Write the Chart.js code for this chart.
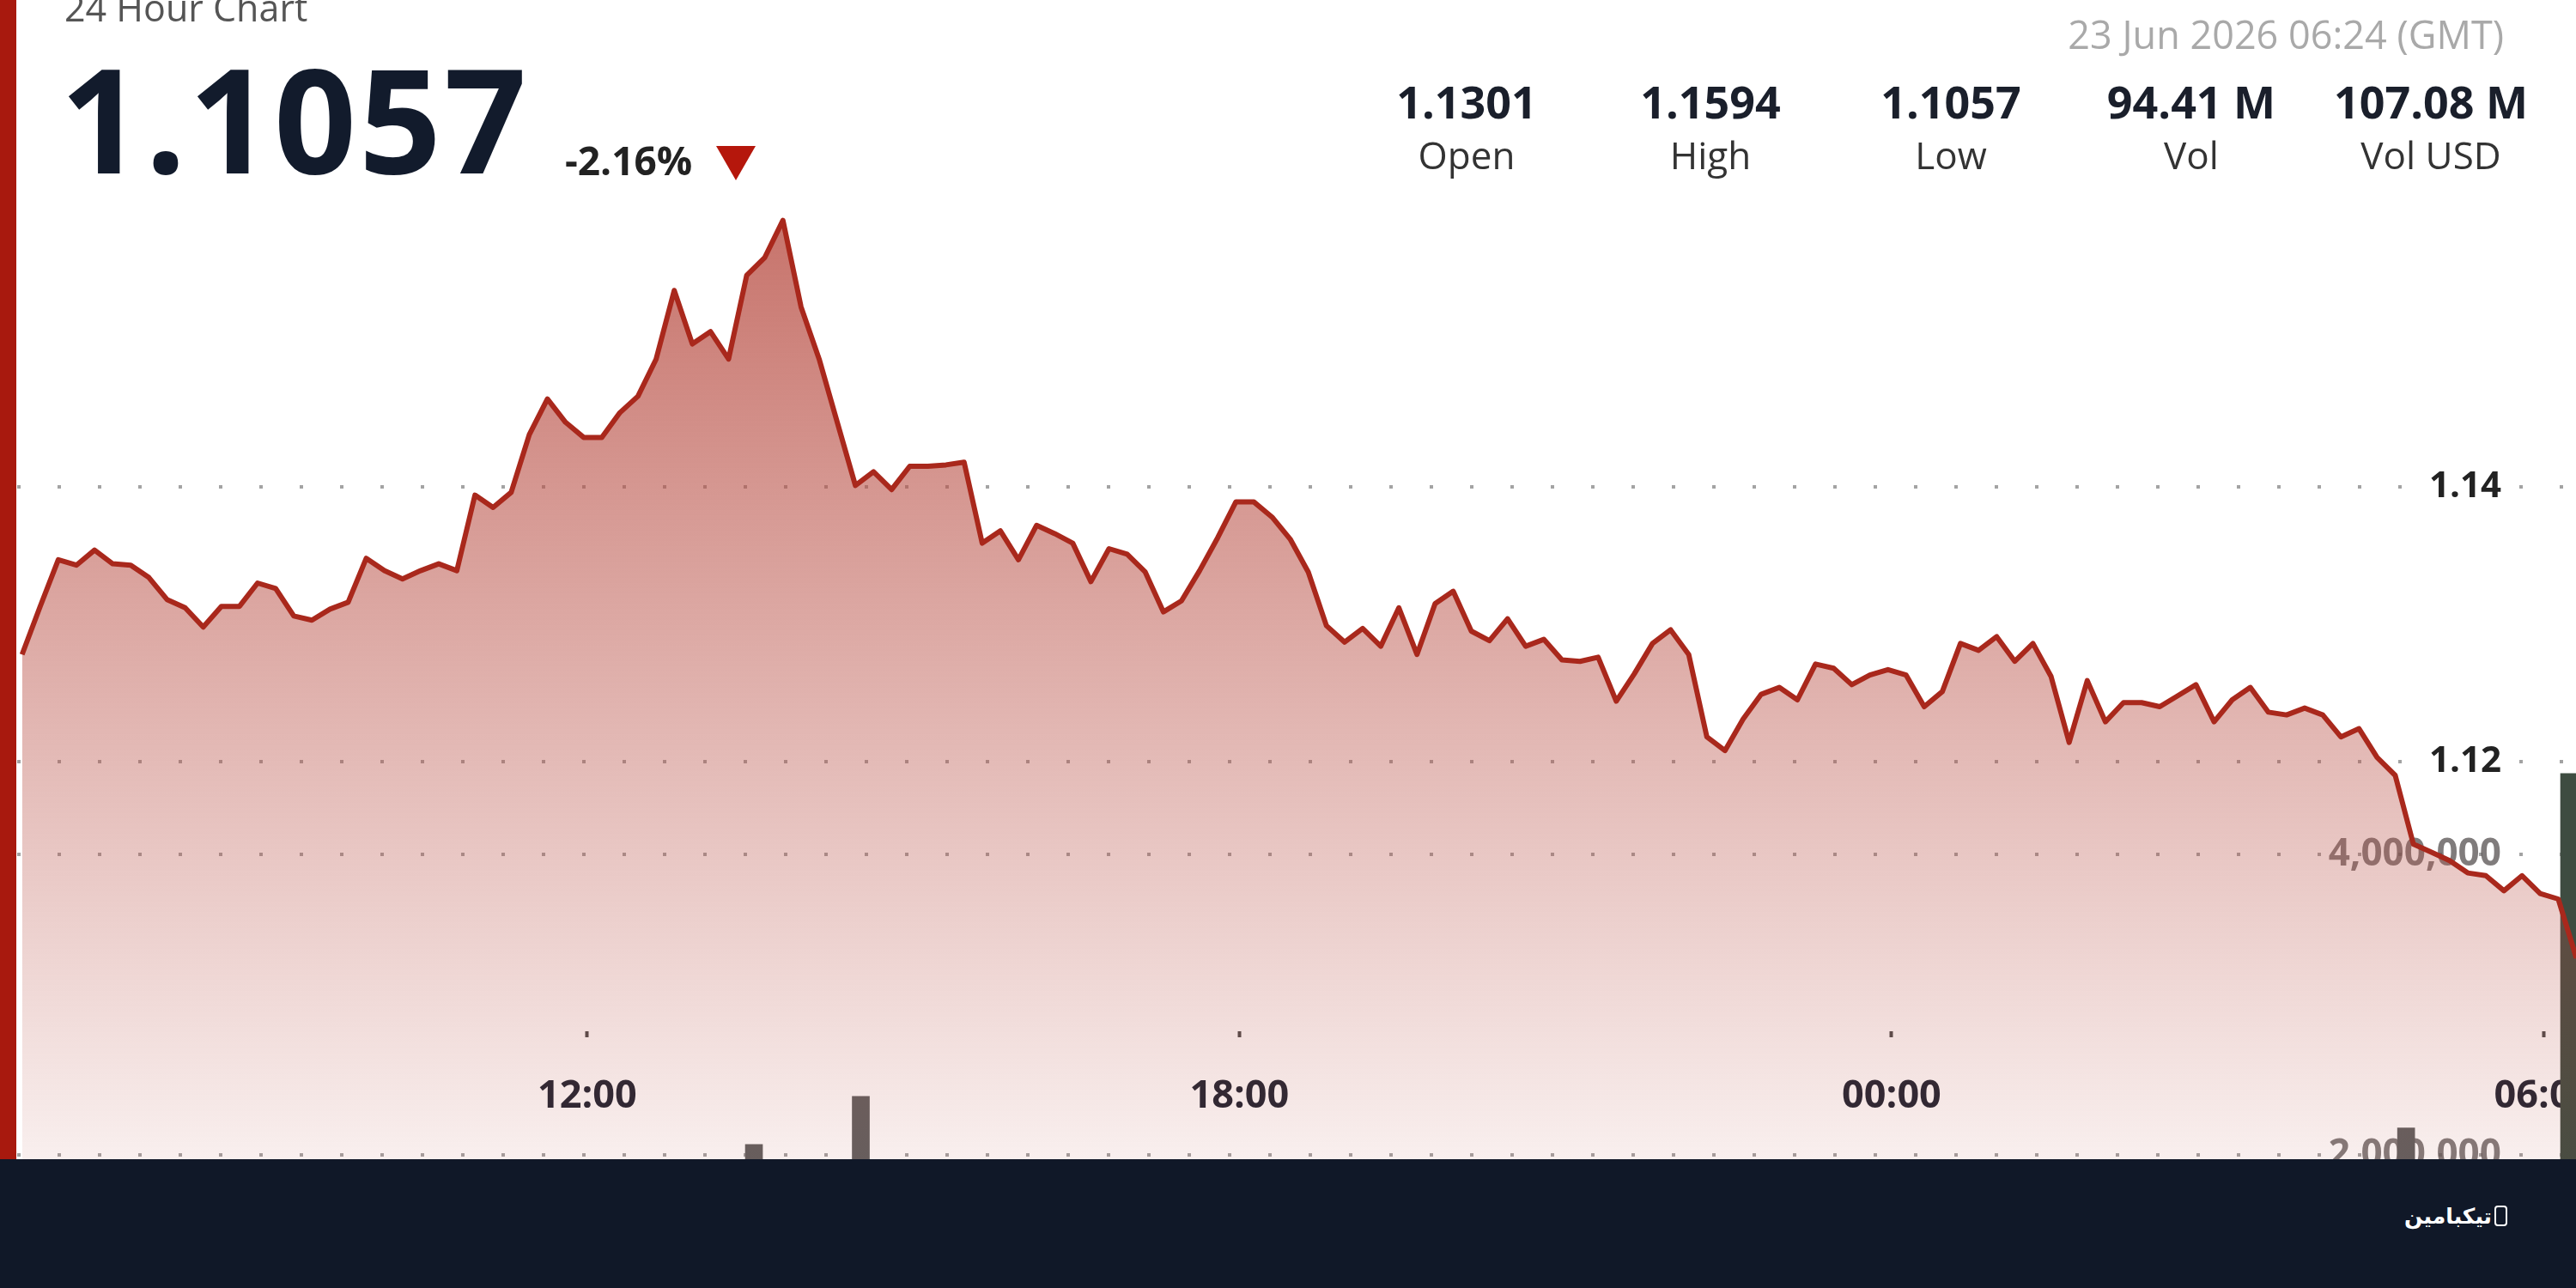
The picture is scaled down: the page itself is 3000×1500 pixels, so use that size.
<!DOCTYPE html>
<html>
<head>
<meta charset="utf-8">
<script src="https://cdn.jsdelivr.net/npm/chart.js@4.4.1/dist/chart.umd.min.js"></script>
<style>
  html, body { margin: 0; padding: 0; background: #fff; }
  body { width: 3000px; height: 1500px; overflow: hidden; position: relative; font-family: 'Open Sans', sans-serif; }
  #plot { position: absolute; left: 0; top: 0; width: 3000px; height: 1350px; overflow: hidden; }
  #chart { position: absolute; left: 0; top: 0; }
  #redbar { position: absolute; left: 0; top: 0; width: 19px; height: 1350px; background: #a8190e; }
  .t { position: absolute; line-height: 1; white-space: nowrap; }
  #title { left: 75px; top: -13px; font-size: 43px; color: #555; }
  #last { left: 70px; top: 53px; font-size: 168px; font-weight: 700; color: #121b2c; letter-spacing: 3px; }
  #change { left: 658px; top: 163px; font-size: 46px; font-weight: 700; color: #222; }
  #arrow { position: absolute; left: 834px; top: 170px; width: 0; height: 0;
           border-left: 23px solid transparent; border-right: 23px solid transparent; border-top: 40px solid #b5170c; }
  #date { right: 84px; top: 17px; font-size: 45px; color: #a9a9a9; }
  .stat { position: absolute; width: 300px; text-align: center; }
  .stat .v { position: absolute; left: 0; width: 300px; top: 92px; font-size: 52px; font-weight: 700; color: #1a1f2b; line-height: 1; }
  .stat .l { position: absolute; left: 0; width: 300px; top: 158px; font-size: 44px; color: #333; line-height: 1; }
  #footer { position: absolute; left: 0; top: 1350px; width: 3000px; height: 150px; background: #101828; }
  #logo { position: absolute; right: 80px; top: 54px; color: #fff; font-family: 'DejaVu Sans', sans-serif;
          font-weight: 700; font-size: 25px; line-height: 1; direction: rtl; white-space: nowrap; }
  #logo span { display: inline-block; width: 11px; height: 20px; border: 2px solid #fff; border-radius: 4px;
               margin-left: 3px; vertical-align: -3px; }
</style>
</head>
<body>
<div id="plot"><canvas id="chart" width="3100" height="1760"></canvas></div>
<div id="redbar"></div>
<div class="t" id="title">24 Hour Chart</div>
<div class="t" id="last">1.1057</div>
<div class="t" id="change">-2.16%</div>
<div id="arrow"></div>
<div class="t" id="date">23 Jun 2026 06:24 (GMT)</div>
<div id="stats"></div>
<div id="footer"><div id="logo"><span></span>تیکبامین</div></div>
<script>
// price every 10 minutes, first point 06:48 (minutes after midnight of day one)
const START_MIN = 408;
const STEP_MIN = 10;
const prices = [
  1.1278, 1.1313, 1.1347, 1.1343, 1.1354, 1.1344, 1.1343, 1.1334, 1.1318, 1.1312,
  1.1298, 1.1313, 1.1313, 1.1330, 1.1326, 1.1306, 1.1303, 1.1311, 1.1316, 1.1348,
  1.1339, 1.1333, 1.1339, 1.1344, 1.1339, 1.1394, 1.1385, 1.1396, 1.1438, 1.1464,
  1.1447, 1.1436, 1.1436, 1.1454, 1.1466,
  1.1493, 1.1543, 1.1504, 1.1513, 1.1493, 1.1554, 1.1567, 1.1594, 1.1531, 1.1493,
  1.1447, 1.1401, 1.1411, 1.1398, 1.1415, 1.1415, 1.1416, 1.1418, 1.1359, 1.1368,
  1.1347, 1.1372, 1.1366, 1.1359, 1.1331, 1.1355, 1.1351, 1.1338, 1.1309, 1.1317,
  1.1339, 1.1363, 1.1389, 1.1389, 1.1378,
  1.1362, 1.1338, 1.1299, 1.1287, 1.1297, 1.1284, 1.1312, 1.1278, 1.1315, 1.1324,
  1.1295, 1.1288, 1.1304, 1.1284, 1.1289, 1.1274, 1.1273, 1.1276, 1.1244, 1.1264,
  1.1286, 1.1296, 1.1278, 1.1218, 1.1208, 1.1231, 1.1249, 1.1254, 1.1245, 1.1271,
  1.1268, 1.1256, 1.1263, 1.1267, 1.1263,
  1.1240, 1.1251, 1.1286, 1.1281, 1.1291, 1.1273, 1.1286, 1.1262, 1.1214, 1.1259,
  1.1229, 1.1243, 1.1243, 1.1240, 1.1248, 1.1256, 1.1229, 1.1245, 1.1254, 1.1236,
  1.1234, 1.1239, 1.1234, 1.1218, 1.1224, 1.1203, 1.1190, 1.1140, 1.1134, 1.1128,
  1.1119, 1.1117, 1.1106, 1.1117, 1.1104, 1.1100, 1.1057
];
const times = prices.map((_, i) => START_MIN + i * STEP_MIN);

const timeTicks = [720, 1080, 1440, 1800];
const timeLabels = ['12:00', '18:00', '00:00', '06:00'];
const priceTicks = [1.12, 1.14];
const volTicks = [2000000, 4000000];

// only the volume bars that stick out above the footer
const volTimes = [812, 871, 1724, 1814];
const volValues = [2070000, 2390000, 2180000, 4540000];
const volColors = ['#5f5f5f', '#5f5f5f', '#5f5f5f', '#3e4c41'];

const statValues = ['1.1301', '1.1594', '1.1057', '94.41 M', '107.08 M'];
const statLabels = ['Open', 'High', 'Low', 'Vol', 'Vol USD'];
const statCenters = [1708, 1992, 2272, 2552, 2831];

const stats = document.getElementById('stats');
statValues.forEach((v, i) => {
  const d = document.createElement('div');
  d.className = 'stat';
  d.style.left = (statCenters[i] - 150) + 'px';
  d.innerHTML = '<div class="v">' + v + '</div><div class="l">' + statLabels[i] + '</div>';
  stats.appendChild(d);
});

const font = (size) => ({ family: 'Open Sans', size: size, weight: 'bold' });
const LABEL_X = 1776.5; // x value where the y labels end

new Chart(document.getElementById('chart'), {
  data: {
    datasets: [
      {
        type: 'line',
        data: times.map((t, i) => ({ x: t, y: prices[i] })),
        xAxisID: 'x', yAxisID: 'y',
        borderColor: '#a9281c', borderWidth: 6, borderJoinStyle: 'round',
        pointRadius: 0, tension: 0, fill: 'start',
        backgroundColor: (c) => {
          const g = c.chart.ctx.createLinearGradient(0, 250, 0, 1400);
          g.addColorStop(0, 'rgba(185,80,70,0.8)');
          g.addColorStop(1, 'rgba(185,80,70,0.06)');
          return g;
        },
        order: 1
      },
      {
        type: 'bar',
        data: volTimes.map((t, i) => ({ x: t, y: volValues[i] })),
        xAxisID: 'x', yAxisID: 'yVol',
        backgroundColor: volColors, barThickness: 20, grouped: false,
        order: 2
      }
    ]
  },
  options: {
    responsive: false,
    animation: false,
    devicePixelRatio: 1,
    layout: { padding: { top: 215, bottom: 65, left: 20, right: 20 } },
    plugins: { legend: { display: false }, tooltip: { enabled: false } },
    scales: {
      x: {
        type: 'linear', axis: 'x', min: 405.3, max: 1855.7, offset: false,
        position: { y: 1.1004 },
        afterBuildTicks: (s) => { s.ticks = timeTicks.map(v => ({ value: v })); },
        ticks: { callback: (v, i) => timeLabels[i], font: font(45), color: '#1d2230',
                 padding: 43, maxRotation: 0, autoSkip: false },
        grid: { offset: false, drawOnChartArea: false, drawTicks: true, tickLength: 7, tickWidth: 4, tickColor: '#4a4a4a' },
        border: { display: false }
      },
      y: {
        type: 'linear', axis: 'y', min: 1.0695, max: 1.162,
        position: { x: LABEL_X },
        afterBuildTicks: (s) => { s.ticks = priceTicks.map(v => ({ value: v })); },
        ticks: { callback: (v) => v.toFixed(2), font: font(42), color: '#222', padding: 0,
                 showLabelBackdrop: true, backdropColor: '#fff', backdropPadding: { x: 12, y: 0 } },
        grid: { color: '#a3a3a3', lineWidth: 4, drawTicks: false },
        border: { display: false, dash: [4, 43] }
      },
      yVol: {
        type: 'linear', axis: 'y', min: 0, max: 8460000,
        position: { x: LABEL_X },
        afterBuildTicks: (s) => { s.ticks = volTicks.map(v => ({ value: v })); },
        ticks: { callback: (v) => v.toLocaleString('en-US'), font: font(44), color: 'rgba(85,80,80,0.75)', padding: 0 },
        grid: { color: '#a3a3a3', lineWidth: 4, drawTicks: false },
        border: { display: false, dash: [4, 43] }
      }
    }
  }
});
</script>
</body>
</html>
